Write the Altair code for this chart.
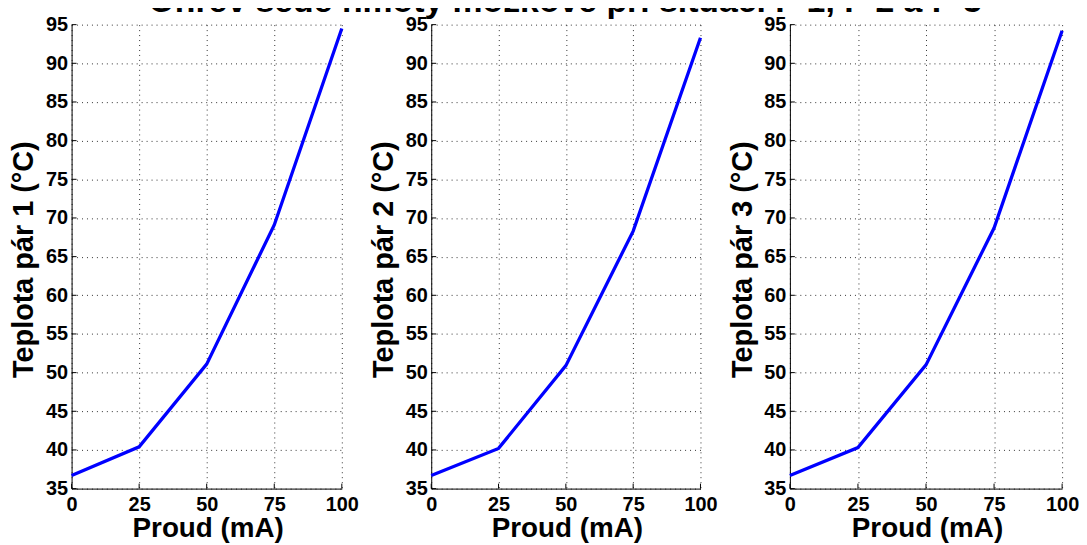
import altair as alt
import pandas as pd

# ---- data ----
current_mA = [0, 25, 50, 75, 100]
temp_p1 = [36.7, 40.4, 51.1, 69.1, 94.5]
temp_p2 = [36.7, 40.2, 50.9, 68.3, 93.3]
temp_p3 = [36.7, 40.3, 51.0, 68.7, 94.2]
series = [temp_p1, temp_p2, temp_p3]
y_titles = ["Teplota pár 1 (°C)", "Teplota pár 2 (°C)", "Teplota pár 3 (°C)"]
x_title = "Proud (mA)"
main_title = "Ohřev šedé hmoty mozkové při situaci P 1, P 2 a P 3"
x_ticks = [0, 25, 50, 75, 100]
y_ticks = [35, 40, 45, 50, 55, 60, 65, 70, 75, 80, 85, 90, 95]

FONT = "Liberation Sans"
H = 467
widths = [272, 271, 274]


def panel(temps, ytitle, w):
    df = pd.DataFrame({"I": current_mA, "T": temps})
    x_enc = alt.X(
        "I:Q",
        scale=alt.Scale(domain=[0, 100], nice=False, zero=False),
        axis=alt.Axis(
            values=x_ticks, title=x_title, grid=True, gridDash=[1, 4],
            gridColor="#333333", gridOpacity=1, gridWidth=1,
            domainColor="black", domainWidth=1, ticks=False, tickSize=0,
            labelFont=FONT, labelFontSize=20, labelFontWeight="bold",
            labelColor="black", labelPadding=6, labelFlush=False,
            titleFont=FONT, titleFontSize=28, titleFontWeight="bold",
            titleColor="black", titleBaseline="alphabetic",
            titleX=w / 2 + 1, titleY=48,
        ),
    )
    y_enc = alt.Y(
        "T:Q",
        scale=alt.Scale(domain=[35, 95], nice=False, zero=False),
        axis=alt.Axis(
            values=y_ticks, title=ytitle, grid=True, gridDash=[1, 4],
            gridColor="#333333", gridOpacity=1, gridWidth=1,
            domainColor="black", domainWidth=1, ticks=False, tickSize=0,
            labelFont=FONT, labelFontSize=20, labelFontWeight="bold",
            labelColor="black", labelPadding=4, labelFlush=False,
            titleFont=FONT, titleFontSize=29, titleFontWeight="bold",
            titleColor="black", titleBaseline="alphabetic",
            titleX=-39, titleY=236,
        ),
    )
    line = alt.Chart(df).mark_line(color="#0000ff", strokeWidth=3.3).encode(
        x=x_enc, y=y_enc
    )
    xt = pd.DataFrame({"I": x_ticks})
    xtick_marks = alt.Chart(xt).mark_rule(color="black", strokeWidth=1).encode(
        x=x_enc, y=alt.value(H), y2=alt.value(H - 5)
    )
    yt = pd.DataFrame({"T": y_ticks})
    ytick_marks = alt.Chart(yt).mark_rule(color="black", strokeWidth=1).encode(
        y=y_enc, x=alt.value(0), x2=alt.value(5)
    )
    return alt.layer(line, xtick_marks, ytick_marks).properties(width=w, height=H)


panels = [panel(s, t, w) for s, t, w in zip(series, y_titles, widths)]

chart = (
    alt.hconcat(*panels, spacing=90, bounds="flush")
    .properties(
        title=alt.TitleParams(
            text=main_title, font=FONT, fontSize=34, fontWeight="bold",
            color="black", anchor="middle", dx=21, dy=8,
        ),
        padding={"left": 2, "top": -25, "right": 0, "bottom": 0},
    )
    .configure_view(stroke=None)
)

chart.save("out.html", embed_options={"renderer": "svg", "actions": False})
